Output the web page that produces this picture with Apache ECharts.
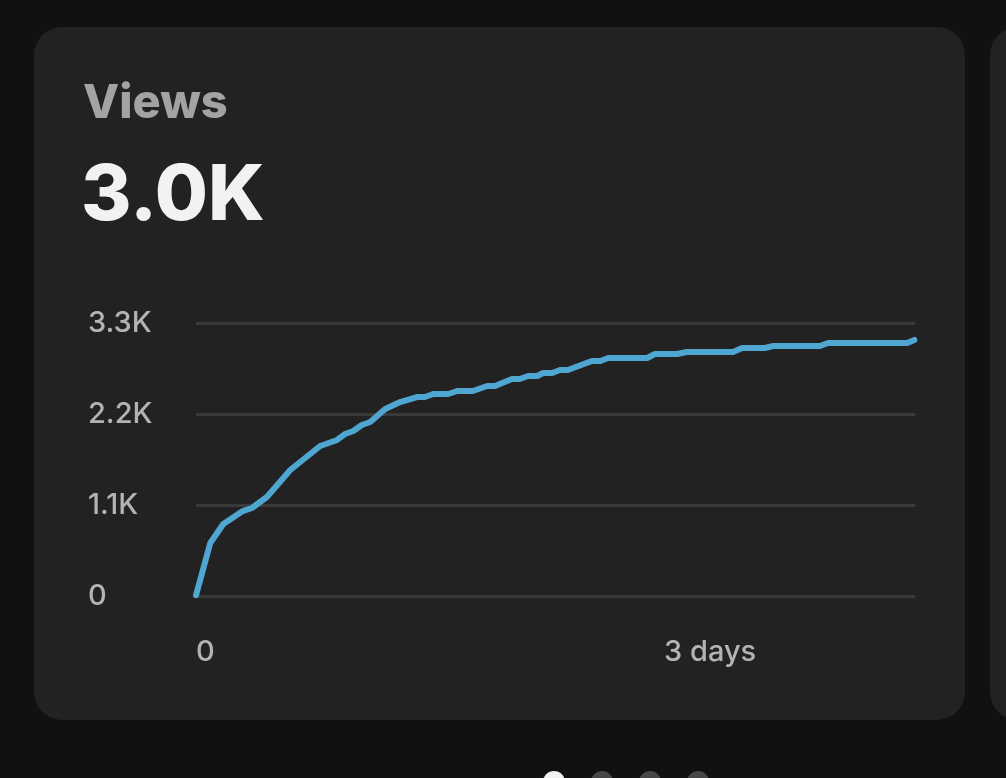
<!DOCTYPE html>
<html>
<head>
<meta charset="utf-8">
<script src="https://cdn.jsdelivr.net/npm/echarts@6/dist/echarts.min.js"></script>
<style>
    html, body { margin: 0; padding: 0; background: #111111; }
    #main { width: 1006px; height: 778px; }
</style>
</head>
<body>
<div id="main"></div>
<script>
const FONT = 'Inter, "Noto Sans", sans-serif';

// hours since publish
const hours = [0, 2.2, 4.2, 7.2, 8.6, 10.9, 14.5, 19.1, 21.7, 22.9, 24.2, 25.5, 26.8, 29.1, 31.4,
    34.0, 35.2, 36.5, 38.8, 40.2, 42.6, 44.8, 46.0, 48.6, 49.8, 51.1, 52.5, 53.4, 54.8, 56.0, 57.2,
    60.9, 62.2, 63.4, 69.4, 70.6, 74.0, 75.5, 82.6, 84.0, 87.5, 88.8, 96.0, 97.2, 109.4, 110.5];
// cumulative views
const views = [10, 640, 870, 1027, 1064, 1197, 1523, 1813, 1886, 1958, 1995, 2067, 2103, 2260, 2345,
    2405, 2405, 2442, 2442, 2478, 2478, 2538, 2538, 2623, 2623, 2659, 2659, 2696, 2696, 2732, 2732,
    2841, 2841, 2877, 2877, 2925, 2925, 2949, 2949, 2998, 2998, 3022, 3022, 3058, 3058, 3095];
const yTicks = [0, 1100, 2200, 3300];
const xTicks = {0: '0', 72: '3 days'};
const dots = [554, 602, 650, 698];

let myChart = echarts.init(document.getElementById('main'), null, {renderer: 'canvas'});

let points = [];
for (let i = 0; i < hours.length; i++) {
    points.push([hours[i], views[i]]);
}

let graphics = [
    {type: 'rect', z: -10, shape: {x: 34, y: 27, width: 931, height: 693, r: 28}, style: {fill: '#222222'}},
    {type: 'rect', z: -10, shape: {x: 990, y: 27, width: 60, height: 693, r: 28}, style: {fill: '#222222'}},
    {type: 'text', left: 83, top: 80, style: {text: 'Views', fill: '#a3a3a3', font: '800 47px ' + FONT}},
    {type: 'text', left: 81, top: 158, style: {text: '3.0K', fill: '#f2f2f2', font: '800 77px ' + FONT}}
];
dots.forEach(function (x, i) {
    graphics.push({type: 'circle', shape: {cx: x, cy: 782, r: 11}, style: {fill: i === 0 ? '#f2f2f2' : '#474747'}});
});

let option = {
    backgroundColor: '#111111',
    animation: false,
    graphic: graphics,
    grid: {left: 196, right: 91, top: 323, bottom: 182},
    xAxis: {
        type: 'value',
        min: 0,
        max: 110.6,
        interval: 72,
        axisLine: {show: false},
        axisTick: {show: false},
        splitLine: {show: false},
        axisLabel: {
            showMaxLabel: false,
            margin: 42,
            align: 'left',
            color: '#b3b3b3',
            fontSize: 29,
            fontWeight: 500,
            fontFamily: FONT,
            formatter: function (v) {
                return xTicks[v] !== undefined ? xTicks[v] : '';
            }
        }
    },
    yAxis: {
        type: 'value',
        min: yTicks[0],
        max: yTicks[yTicks.length - 1],
        interval: 1100,
        axisLine: {show: false},
        axisTick: {show: false},
        splitLine: {lineStyle: {color: '#3a3a3a', width: 3}},
        axisLabel: {
            margin: 108,
            align: 'left',
            color: '#b3b3b3',
            fontSize: 29,
            fontWeight: 500,
            fontFamily: FONT,
            formatter: function (v) {
                return v === 0 ? '0' : (v / 1000).toFixed(1) + 'K';
            }
        }
    },
    series: [{
        type: 'line',
        data: points,
        symbol: 'none',
        smooth: false,
        lineStyle: {color: '#4fa6d1', width: 6, cap: 'round', join: 'round'}
    }]
};

myChart.setOption(option);
</script>
</body>
</html>
